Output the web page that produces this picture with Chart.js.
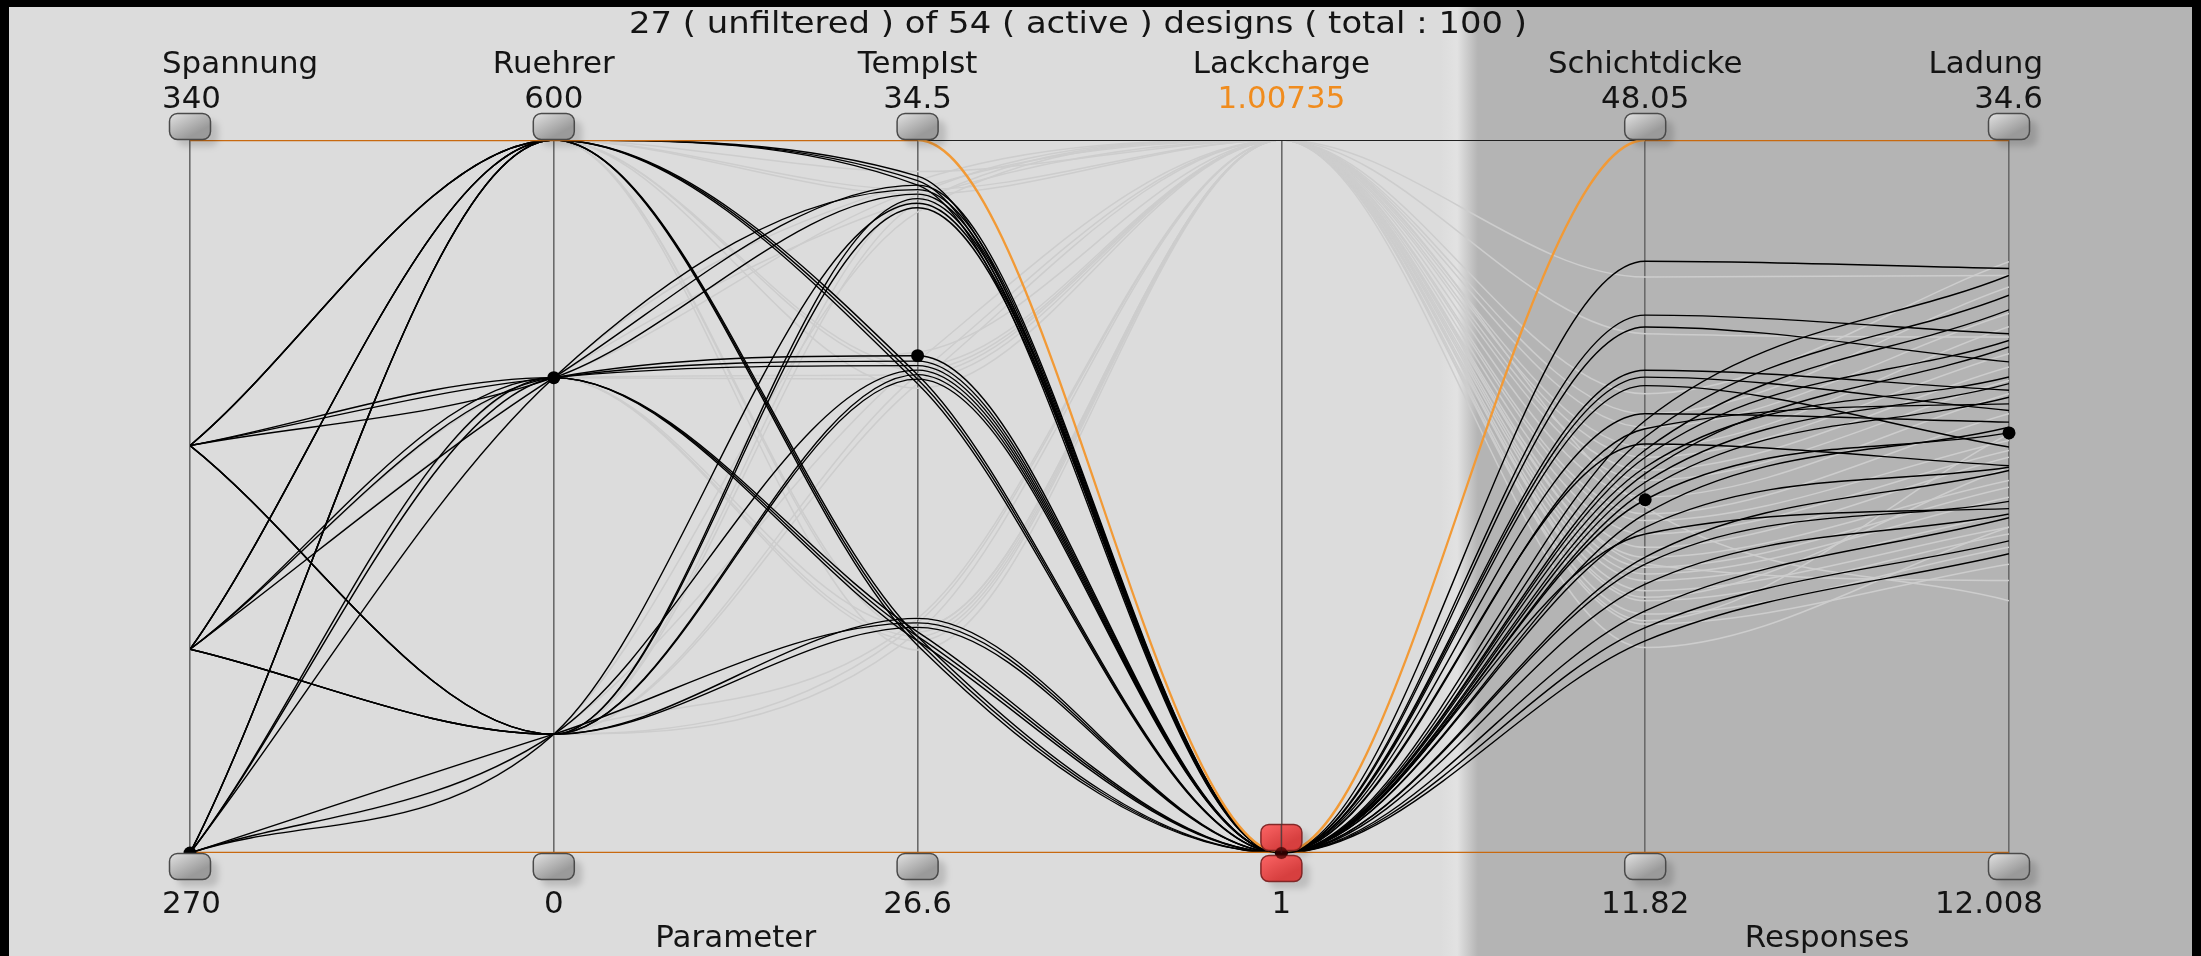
<!DOCTYPE html>
<html lang="de">
<head>
<meta charset="UTF-8">
<title>Parallel Coordinates</title>
<script src="https://cdn.jsdelivr.net/npm/chart.js"></script>
<style>
    html, body { margin: 0; padding: 0; background: #000; overflow: hidden; }
    #wrap { width: 2201px; height: 956px; }
</style>
</head>
<body>
<div id="wrap"><canvas id="pc" width="2201" height="956"></canvas></div>
<script>
// axes
const axisNames = ['Spannung', 'Ruehrer', 'TempIst', 'Lackcharge', 'Schichtdicke', 'Ladung'];
const axisMin = [270, 0, 26.6, 1, 11.82, 12.008];
const axisMax = [340, 600, 34.5, 1.00735, 48.05, 34.6];
const minLabels = ['270', '0', '26.6', '1', '11.82', '12.008'];
const maxLabels = ['340', '600', '34.5', '1.00735', '48.05', '34.6'];
const groupLabels = ['Parameter', 'Responses'];
const titleText = '27 ( unfiltered ) of 54 ( active ) designs ( total : 100 )';

// design factors (same plan for unfiltered and filtered designs)
const spannung = [270, 290, 310, 270, 290, 310, 270, 290, 310,
                  270, 290, 310, 270, 290, 310, 270, 290, 310,
                  270, 290, 310, 270, 290, 310, 270, 290, 310];
const ruehrer = [600, 600, 600, 600, 600, 600, 600, 600, 600,
                 400, 400, 400, 400, 400, 400, 400, 400, 400,
                 100, 100, 100, 100, 100, 100, 100, 100, 100];

// unfiltered designs (Lackcharge = 1)
const tempIst = [34.05, 34.10, 34.00, 31.85, 31.80, 31.90, 28.95, 28.90, 29.00,
                 33.95, 34.00, 33.90, 32.11, 32.05, 32.00, 29.00, 29.05, 28.95,
                 33.80, 33.75, 33.85, 31.95, 31.90, 31.85, 29.15, 29.20, 29.10];
const lackcharge = 1;
const schichtdicke = [41.89, 33.80, 36.35, 32.96, 28.37, 39.15, 26.85, 31.42, 24.12,
                      35.57, 38.55, 30.23, 29.77, 32.30, 26.50, 34.14, 22.60, 31.10,
                      36.00, 29.05, 33.38, 25.48, 31.93, 28.03, 30.66, 23.27, 32.60];
const ladung = [30.53, 30.31, 26.67, 29.68, 24.23, 28.46, 24.13, 27.09, 22.63,
                24.87, 27.57, 26.45, 25.32, 29.22, 23.15, 25.66, 21.49, 28.04,
                26.03, 25.50, 26.24, 22.75, 28.25, 22.92, 26.88, 21.90, 24.28];

// filtered designs (Lackcharge = 1.00735)
const tempIstF = [33.90, 34.15, 33.95, 32.00, 31.75, 31.95, 29.05, 28.85, 29.10,
                  34.05, 33.85, 33.95, 31.90, 32.15, 31.85, 29.10, 28.95, 29.00,
                  33.70, 33.90, 33.80, 32.05, 31.80, 31.90, 29.20, 29.05, 29.15];
const lackchargeF = 1.00735;
const schichtdickeF = [41.09, 38.21, 35.16, 34.14, 33.46, 32.44, 31.93, 31.27, 30.76,
                       29.91, 29.05, 28.71, 28.03, 27.35, 26.85, 26.34, 26.00, 25.66,
                       25.15, 24.64, 23.96, 23.45, 22.26, 24.81, 23.62, 26.50, 29.39];
const ladungF = [30.31, 28.36, 30.74, 29.94, 29.10, 28.68, 27.83, 27.41, 26.98,
                 26.56, 25.93, 25.08, 24.76, 24.55, 23.81, 23.60, 23.28, 22.75,
                 22.33, 22.12, 21.70, 21.16, 22.33, 24.23, 25.29, 20.64, 20.00];

const selected = 12;  // highlighted design with markers

// normalize a value onto its own axis (0 = min, 1 = max)
function norm(axis, v) {
    return (v - axisMin[axis]) / (axisMax[axis] - axisMin[axis]);
}

function designPoints(values) {
    return values.map((v, i) => ({ x: i, y: norm(i, v) }));
}

const datasets = [];

for (let i = 0; i < 27; i++) {
    datasets.push({
        data: designPoints([spannung[i], ruehrer[i], tempIstF[i], lackchargeF, schichtdickeF[i], ladungF[i]]),
        borderColor: '#cdcdcd',
        borderWidth: 1.5,
        order: 5
    });
}

// frame line along the top
datasets.push({
    data: designPoints(axisMax),
    borderColor: '#202020',
    borderWidth: 2,
    order: 4
});

for (let i = 0; i < 27; i++) {
    if (i === selected) continue;
    datasets.push({
        data: designPoints([spannung[i], ruehrer[i], tempIst[i], lackcharge, schichtdicke[i], ladung[i]]),
        borderColor: '#000000',
        borderWidth: 1.4,
        order: 3
    });
}

// min / max envelope
datasets.push({
    data: designPoints(axisMin),
    borderColor: '#c8690f',
    borderWidth: 2.5,
    order: 2
});
datasets.push({
    data: designPoints([axisMax[0], axisMax[1], axisMax[2], axisMin[3], axisMax[4], axisMax[5]]),
    borderWidth: 2.3,
    segment: {
        borderColor: c => c.p0.parsed.y === c.p1.parsed.y ? '#c8690f' : '#f29a36'
    },
    order: 1
});

datasets.push({
    data: designPoints([spannung[selected], ruehrer[selected], tempIst[selected], lackcharge, schichtdicke[selected], ladung[selected]]),
    borderColor: '#000000',
    borderWidth: 1.5,
    pointRadius: 6.5,
    pointBackgroundColor: '#000000',
    pointBorderWidth: 0,
    clip: false,
    order: 0
});

const TEXT_FONT = '30px "DejaVu Sans"';
const TEXT_SX = 1.03;
const TITLE_WIDTH = 898;

function drawText(ctx, text, x, y, color, lo, hi, fitWidth) {
    ctx.save();
    ctx.font = TEXT_FONT;
    const raw = ctx.measureText(text).width;
    const sx = fitWidth ? fitWidth / raw : TEXT_SX;
    const w = raw * sx;
    if (lo !== undefined) x = Math.min(Math.max(x, lo + w / 2), hi - w / 2);
    ctx.translate(x, y);
    ctx.scale(sx, 1);
    ctx.fillStyle = color;
    ctx.textAlign = 'center';
    ctx.textBaseline = 'alphabetic';
    ctx.fillText(text, 0, 0);
    ctx.restore();
}

function drawHandle(ctx, cx, y, red) {
    const w = 42, h = 27, x = cx - w / 2;
    ctx.save();
    ctx.shadowColor = 'rgba(0,0,0,0.15)';
    ctx.shadowBlur = 6;
    ctx.shadowOffsetX = 8;
    ctx.shadowOffsetY = 7;
    const g = ctx.createLinearGradient(x, y, x + w * 0.35, y + h);
    if (red) {
        g.addColorStop(0, '#ff5b5b');
        g.addColorStop(1, '#d93434');
        ctx.globalAlpha = 0.92;
    } else {
        g.addColorStop(0, '#e4e4e4');
        g.addColorStop(1, '#9a9a9a');
    }
    ctx.fillStyle = g;
    ctx.beginPath();
    ctx.roundRect(x + 0.5, y + 0.5, w - 1, h - 1, 8);
    ctx.fill();
    ctx.shadowColor = 'transparent';
    ctx.lineWidth = 1.5;
    ctx.strokeStyle = red ? '#7a2020' : '#4a4a4a';
    ctx.stroke();
    ctx.restore();
}

const backdrop = {
    id: 'backdrop',
    beforeDraw(chart) {
        const ctx = chart.ctx;
        const W = chart.width, H = chart.height;
        ctx.save();
        ctx.fillStyle = '#000';
        ctx.fillRect(0, 0, W, H);
        ctx.fillStyle = '#dcdcdc';
        ctx.fillRect(9, 7, 2183, H - 7);
        // responses area
        ctx.fillStyle = '#b4b4b4';
        ctx.fillRect(1470, 7, 722, H - 7);
        const g = ctx.createLinearGradient(1440, 0, 1478, 0);
        g.addColorStop(0, '#dcdcdc');
        g.addColorStop(0.45, '#e2e2e2');
        g.addColorStop(1, '#b4b4b4');
        ctx.fillStyle = g;
        ctx.fillRect(1440, 7, 38, H - 7);
        ctx.restore();
    }
};

const decorations = {
    id: 'decorations',
    afterDatasetsDraw(chart) {
        const ctx = chart.ctx;
        const xs = chart.scales.x, ys = chart.scales.y;
        const top = ys.getPixelForValue(1), bottom = ys.getPixelForValue(0);
        for (let i = 0; i < axisNames.length; i++) {
            const px = xs.getPixelForValue(i);
            if (i === 3) {
                drawHandle(ctx, px, bottom - 29, true);
                drawHandle(ctx, px, bottom + 2, true);
                ctx.save();
                ctx.strokeStyle = 'rgba(60,60,60,0.8)';
                ctx.lineWidth = 1.5;
                ctx.beginPath();
                ctx.moveTo(px, bottom - 29);
                ctx.lineTo(px, bottom);
                ctx.stroke();
                ctx.fillStyle = 'rgba(60,0,0,0.7)';
                ctx.beginPath();
                ctx.arc(px, bottom, 6, 0, Math.PI * 2);
                ctx.fill();
                ctx.restore();
            } else {
                drawHandle(ctx, px, top - 27, false);
                drawHandle(ctx, px, bottom, false);
            }
        }
    },
    afterDraw(chart) {
        const ctx = chart.ctx;
        const xs = chart.scales.x;
        const lo = xs.getPixelForValue(0) - 28, hi = xs.getPixelForValue(5) + 34;
        drawText(ctx, titleText, 1078, 33, '#141414', undefined, undefined, TITLE_WIDTH);
        for (let i = 0; i < axisNames.length; i++) {
            const px = xs.getPixelForValue(i);
            drawText(ctx, axisNames[i], px, 73, '#141414', lo, hi);
            drawText(ctx, maxLabels[i], px, 108, i === 3 ? '#f08c1e' : '#141414', lo, hi);
            drawText(ctx, minLabels[i], px, 913, '#141414', lo, hi);
        }
        drawText(ctx, groupLabels[0], (xs.getPixelForValue(0) + xs.getPixelForValue(3)) / 2, 947, '#141414');
        drawText(ctx, groupLabels[1], (xs.getPixelForValue(4) + xs.getPixelForValue(5)) / 2, 947, '#141414');
    }
};

new Chart(document.getElementById('pc').getContext('2d'), {
    type: 'line',
    data: { datasets: datasets },
    options: {
        responsive: false,
        animation: false,
        events: [],
        layout: { padding: { left: 190, right: 192, top: 140, bottom: 103 } },
        plugins: {
            legend: { display: false },
            tooltip: { enabled: false },
            title: { display: false }
        },
        elements: {
            point: { radius: 0 },
            line: { cubicInterpolationMode: 'monotone', fill: false }
        },
        scales: {
            x: {
                type: 'linear',
                min: 0,
                max: 5,
                afterFit: s => { s.height = 0; },
                ticks: { display: false, stepSize: 1 },
                grid: { color: '#6a6a6a', lineWidth: 1.6, drawTicks: false },
                border: { display: false }
            },
            y: { min: 0, max: 1, display: false }
        }
    },
    plugins: [backdrop, decorations]
});
</script>
</body>
</html>
